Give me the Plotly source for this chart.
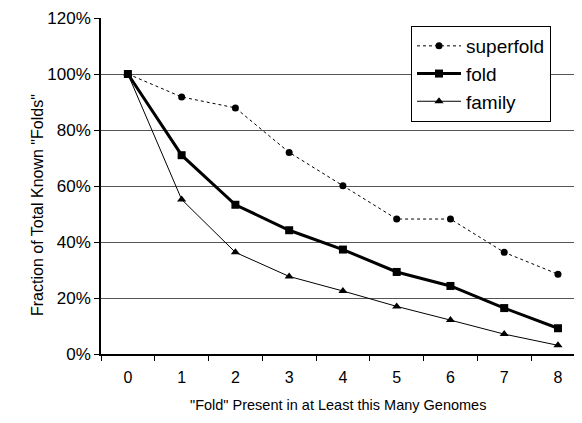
import plotly.graph_objects as go

genomes = ["0", "1", "2", "3", "4", "5", "6", "7", "8"]
superfold = [1.00, 0.918, 0.879, 0.72, 0.601, 0.482, 0.482, 0.363, 0.285]
fold = [1.00, 0.71, 0.533, 0.442, 0.373, 0.293, 0.243, 0.164, 0.092]
family = [1.00, 0.552, 0.363, 0.277, 0.225, 0.17, 0.121, 0.071, 0.031]

FONT = "Liberation Sans, Arial, sans-serif"
OFF = 8  # default page body margin
W, H = 582 - OFF, 423 - OFF
L, T, B = 101 - OFF, 18 - OFF, 69
PW, PH = W - L, H - T - B

fig = go.Figure()
fig.add_trace(go.Scatter(
    x=genomes, y=superfold, name="superfold", mode="lines+markers",
    line=dict(color="black", width=1, dash="dot"),
    marker=dict(symbol="circle", size=7, color="black"),
    legendgroup="a"))
fig.add_trace(go.Scatter(
    x=genomes, y=fold, name="fold", mode="lines+markers",
    line=dict(color="black", width=3),
    marker=dict(symbol="square", size=8, color="black"),
    legendgroup="b"))
fig.add_trace(go.Scatter(
    x=genomes, y=family, name="family", mode="lines+markers",
    line=dict(color="black", width=1),
    marker=dict(symbol="triangle-up", size=8, color="black"),
    legendgroup="c"))

fig.update_layout(
    width=W, height=H,
    margin=dict(l=L, r=0, t=T, b=B, autoexpand=False),
    paper_bgcolor="white", plot_bgcolor="white",
    font=dict(family=FONT, size=15, color="black"),
    showlegend=True,
    legend=dict(
        x=(411 - 101) / PW, y=1 - (26 - 18) / PH, yanchor="top", xanchor="left",
        bordercolor="black", borderwidth=1, bgcolor="white",
        font=dict(family=FONT, size=19, color="black"),
        traceorder="grouped", tracegroupgap=0, itemwidth=44,
    ),
    xaxis=dict(
        type="category", range=[-0.5, 8.447], automargin=False,
        tickson="boundaries", ticks="outside", ticklen=5, tickcolor="black",
        showline=True, linecolor="black", linewidth=1.5,
        showgrid=False, zeroline=False,
        tickfont=dict(size=16), ticklabelstandoff=8,
    ),
    yaxis=dict(
        range=[0, 1.2], dtick=0.2, tickformat=".0%", automargin=False,
        ticks="outside", ticklen=5, tickcolor="black",
        showline=True, linecolor="black", linewidth=1.5,
        showgrid=True, gridcolor="#555555", gridwidth=1,
        zeroline=False, tickfont=dict(size=17),
    ),
    annotations=[
        dict(text='Fraction of Total Known "Folds"', textangle=-90,
             xref="paper", yref="paper", x=-(101 - 37) / PW, y=1 - (205 - 18) / PH,
             xanchor="center", yanchor="middle", showarrow=False,
             font=dict(size=16)),
        dict(text='"Fold" Present in at Least this Many Genomes',
             xref="paper", yref="paper", x=(338 - 101) / PW, y=-(405 - 354) / PH,
             xanchor="center", yanchor="middle", showarrow=False,
             font=dict(size=14.5)),
    ],
)

fig.write_html("out.html")
